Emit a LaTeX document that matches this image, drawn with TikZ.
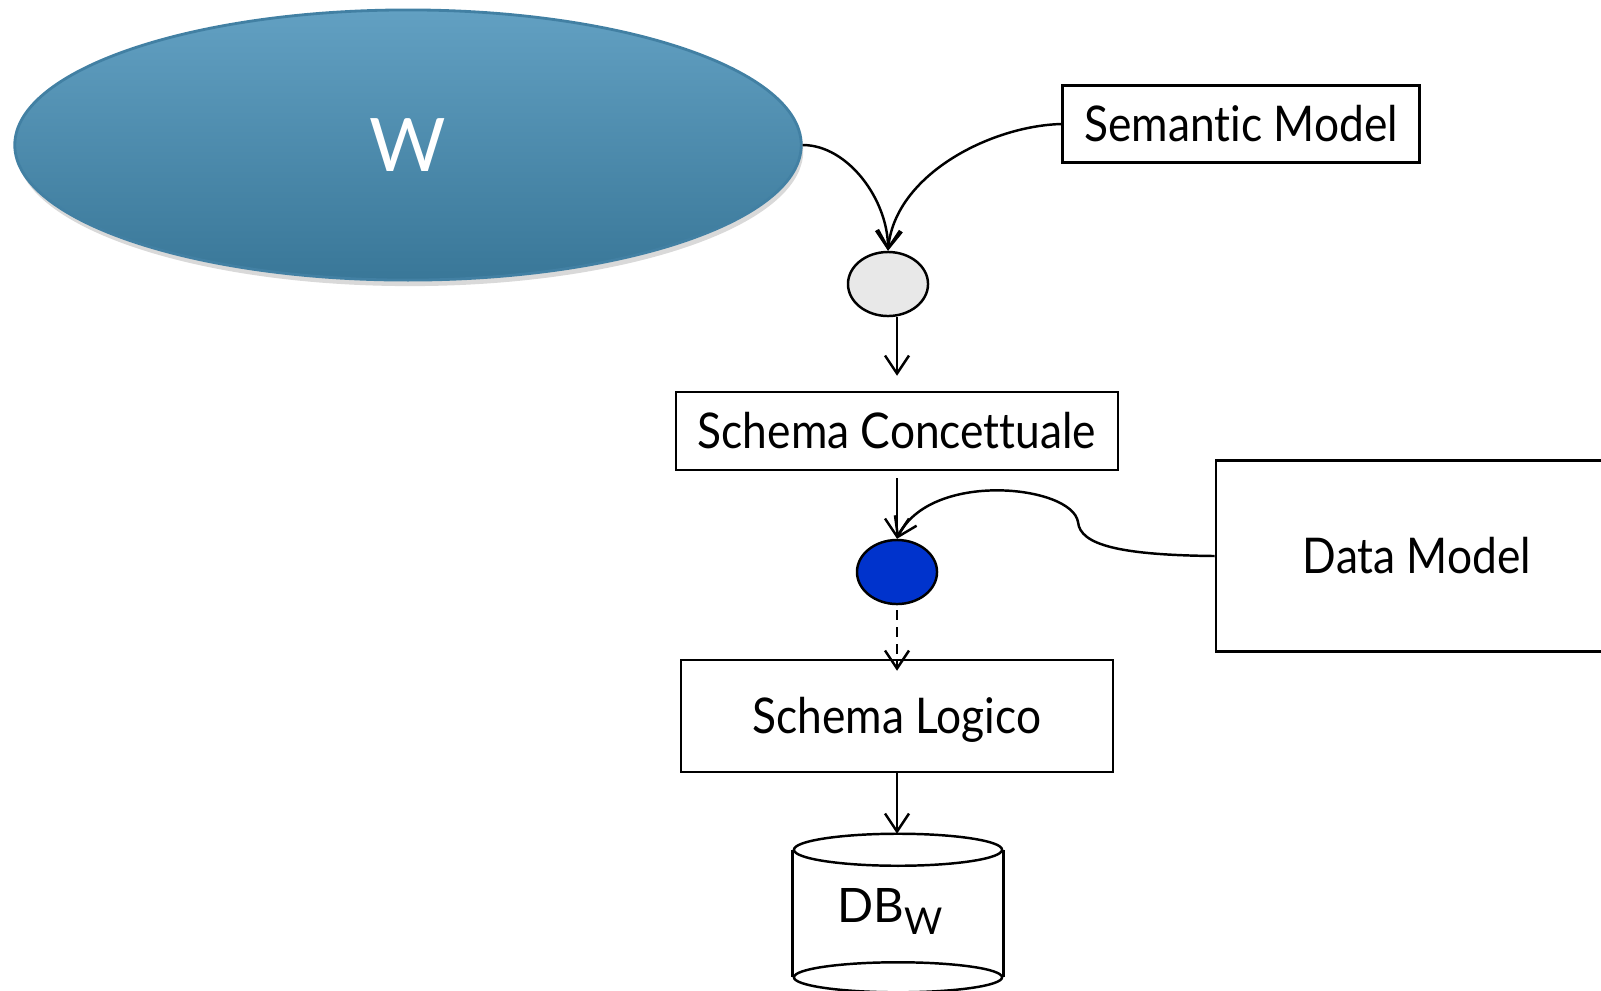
\documentclass[tikz,border=0pt]{standalone}
\usepackage{fontspec}
\setmainfont{Lato}[Ligatures=NoCommon]
\newfontfamily\labelfont{Lato}[FakeStretch=0.9,Ligatures=NoCommon]
\usetikzlibrary{arrows.meta,shapes.geometric,shadows,calc}
\definecolor{wtop}{RGB}{98,160,194}
\definecolor{wbot}{RGB}{57,119,152}
\definecolor{wline}{RGB}{66,128,163}
\definecolor{procgray}{RGB}{232,232,232}
\definecolor{procblue}{RGB}{0,51,204}
\begin{document}
\begin{tikzpicture}[x=0.01cm,y=-0.01cm,
  line width=0.7pt,
  box/.style={draw, rectangle, inner sep=0pt, text height=10pt, text depth=0pt,
              font=\labelfont\fontsize{14}{16}\selectfont},
  proc/.style={draw, ellipse, minimum width=0.80cm, minimum height=0.64cm, inner sep=0pt},
  flow/.style={-{Straight Barb[length=0.18cm,width=0.24cm]}},
]
\clip (0,0) rectangle (1601,990);

% world ellipse
\node[ellipse, minimum width=7.86cm, minimum height=2.70cm,
      top color=wtop, bottom color=wbot, draw=wline, line width=0.8pt,
      drop shadow={shadow xshift=0.02cm, shadow yshift=-0.06cm, opacity=0.3},
      text=white, font=\fontsize{21}{24}\selectfont] (w) at (408,145) {W};

% boxes and process bubbles
\node[box, minimum width=3.57cm, minimum height=0.77cm] (sm) at (1241,124) {Semantic Model};
\node[proc, fill=procgray] (g) at (888,284) {};
\node[box, minimum width=4.42cm, minimum height=0.78cm] (sc) at (897,431) {Schema Concettuale};
\node[proc, fill=procblue] (b) at (897,572) {};
\node[box, minimum width=4.02cm, minimum height=1.91cm] (dm) at (1417,556) {Data Model};
\node[box, minimum width=4.32cm, minimum height=1.12cm] (sl) at (897,716) {Schema Logico};

% database cylinder
\node[minimum width=2.08cm, minimum height=1.25cm, inner sep=0pt] (db) at (898,913.5) {};
\draw (db.north west) -- (db.south west) (db.north east) -- (db.south east);
\draw (db.north) ellipse [x radius=1.04cm, y radius=0.16cm];
\draw (db.south) ellipse [x radius=1.04cm, y radius=0.15cm];
\coordinate (dbtop) at ($(db.north)+(0,-16)$);
\node[anchor=base west, inner sep=0pt, font=\fontsize{13.5}{16}\selectfont] (dbl) at (836,922)
  {DB\raisebox{-0.12cm}{\fontsize{10.5}{12}\selectfont W}};

% connectors
\draw[flow] (w.east) .. controls (848,145) and (888,200) .. (g.north);
\draw[flow] (sm.west) .. controls (990,126) and (895,175) .. (g.north);
\coordinate (gout) at (g.south -| sc.north);
\coordinate (scin) at ($(sc.north)+(0,-15)$);
\draw[flow] (gout) -- (scin);
\coordinate (scout) at ($(sc.south)+(0,7)$);
\draw[flow] (scout) -- (b.north);
\draw[flow] (dm.west) .. controls (1120,555) and (1080,545) .. (1078,522)
  .. controls (1072,485) and (930,470) .. (b.north);
\coordinate (bout) at ($(b.south)+(0,5)$);
\coordinate (slin) at ($(sl.north)+(0,12)$);
\draw[flow, dash pattern=on 0.1cm off 0.07cm] (bout) -- (slin);
\coordinate (slout) at (sl.south);
\draw[flow] (slout) -- (dbtop -| slout);
\end{tikzpicture}
\end{document}
